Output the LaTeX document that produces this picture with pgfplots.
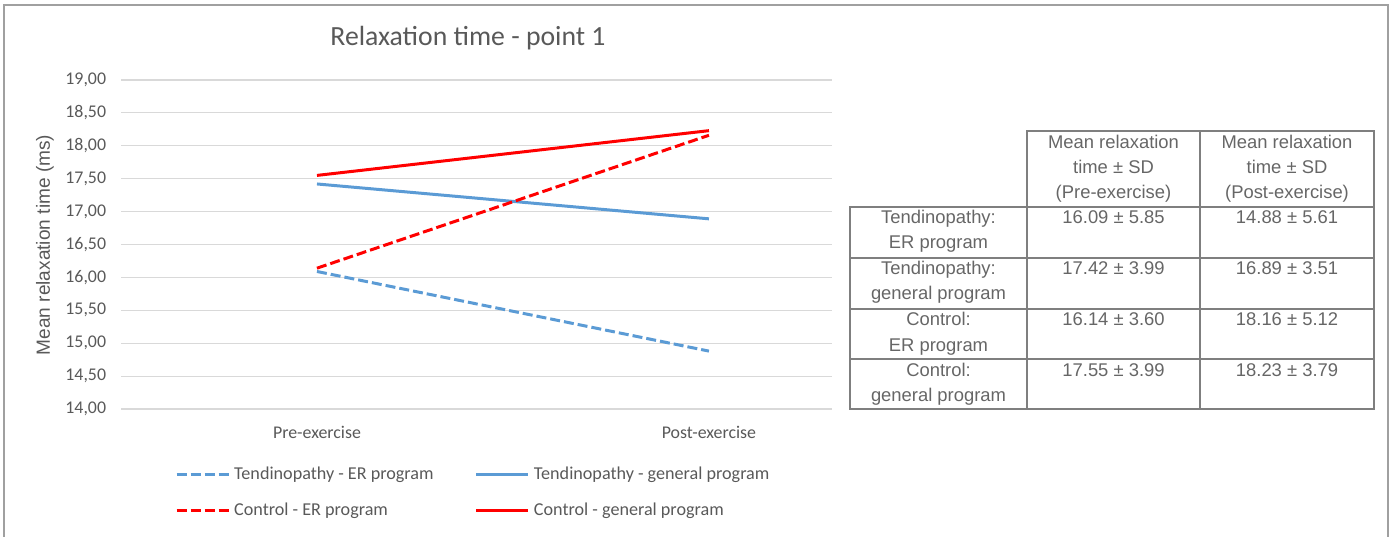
\documentclass[border=0pt]{standalone}
\usepackage{pgfplots}
\pgfplotsset{compat=1.18}
\usepackage{fontspec}
\setmainfont{Carlito}
\newfontfamily\arial{Liberation Sans}
\definecolor{txt}{HTML}{595959}
\definecolor{ttxt}{HTML}{666666}
\definecolor{tblue}{HTML}{5B9BD5}
\definecolor{tred}{HTML}{FF0000}
\definecolor{gridc}{HTML}{D9D9D9}
\definecolor{tbl}{HTML}{7F7F7F}
\definecolor{framec}{HTML}{A0A0A0}
\begin{document}
\begin{tikzpicture}[x=0.75pt,y=0.75pt]
\useasboundingbox (0,0) rectangle (1395,536);
\draw[framec, line width=1.2pt] (4,-10) -- (4,531) -- (1388,531) -- (1388,-10);
\node[txt, font=\fontsize{20.8}{25}\selectfont, anchor=base, inner sep=0pt] at (468,490) {Relaxation time - point 1};
\begin{axis}[
  at={(90.75pt,95.25pt)}, anchor=south west,
  scale only axis, width=533.25pt, height=246.75pt,
  xmin=-0.5, xmax=1.314, ymin=14, ymax=19,
  axis line style={draw=none},
  major tick length=0pt,
  xtick={0,1}, xticklabels={Pre-exercise,Post-exercise},
  ytick={14,14.5,15,15.5,16,16.5,17,17.5,18,18.5,19},
  ymajorgrids, grid style={gridc, line width=0.9pt},
  /pgf/number format/.cd, fixed, fixed zerofill, precision=2, use comma, assume math mode=true,
  /pgfplots/.cd,
  tick label style={txt, font=\fontsize{13.4}{16}\selectfont},
  yticklabel style={anchor=east, inner sep=0pt, xshift=-11pt},
  xticklabel style={anchor=base, inner sep=0pt, yshift=-21.75pt},
  ylabel={Mean relaxation time (ms)},
  ylabel style={at={(axis description cs:-0.1069,0.4985)}, anchor=center, txt, font=\arial\fontsize{14.3}{17}\selectfont},
  legend columns=2,
  legend cell align=left,
  legend image code/.code={\draw[#1] (0pt,0pt) -- (39pt,0pt);},
  legend style={draw=none, fill=none, inner sep=0pt, at={(axis description cs:0.0759,-0.176)}, anchor=north west,
    font=\fontsize{13.6}{16}\selectfont, text=txt, row sep=15.75pt,
    nodes={inner sep=0pt},
    /tikz/every odd column/.append style={column sep=3pt},
    /tikz/every even column/.append style={column sep=31pt}},
]
\addplot[tblue, line width=2.25pt, dash pattern=on 7.5pt off 3pt] coordinates {(0,16.09) (1,14.88)};
\addlegendentry{Tendinopathy - ER program}
\addplot[tblue, line width=2.25pt] coordinates {(0,17.42) (1,16.89)};
\addlegendentry{Tendinopathy - general program}
\addplot[tred, line width=2.25pt, dash pattern=on 7.5pt off 3pt] coordinates {(0,16.14) (1,18.16)};
\addlegendentry{Control - ER program}
\addplot[tred, line width=2.25pt] coordinates {(0,17.55) (1,18.23)};
\addlegendentry{Control - general program}
\end{axis}
% table
\draw[tbl, line width=1.5pt] (1027,329) rectangle (1374,405);
\draw[tbl, line width=1.5pt] (850,127) rectangle (1374,329);
\draw[tbl, line width=1.5pt] (850,278) -- (1374,278) (850,227) -- (1374,227) (850,177) -- (1374,177)
  (1027,127) -- (1027,329) (1200,127) -- (1200,405);
\begin{scope}[every node/.style={ttxt, font=\arial\fontsize{13.8}{16}\selectfont, anchor=base, inner sep=0pt}]
\node at (1113.5,387) {Mean relaxation};
\node at (1113.5,362) {time ± SD};
\node at (1113.5,337) {(Pre-exercise)};
\node at (1287,387) {Mean relaxation};
\node at (1287,362) {time ± SD};
\node at (1287,337) {(Post-exercise)};
\node at (938.5,312) {Tendinopathy:};
\node at (938.5,287) {ER program};
\node at (938.5,261) {Tendinopathy:};
\node at (938.5,236) {general program};
\node at (938.5,210) {Control:};
\node at (938.5,185) {ER program};
\node at (938.5,160) {Control:};
\node at (938.5,135) {general program};
\node at (1113.5,312) {16.09 ± 5.85};
\node at (1287,312) {14.88 ± 5.61};
\node at (1113.5,261) {17.42 ± 3.99};
\node at (1287,261) {16.89 ± 3.51};
\node at (1113.5,210) {16.14 ± 3.60};
\node at (1287,210) {18.16 ± 5.12};
\node at (1113.5,160) {17.55 ± 3.99};
\node at (1287,160) {18.23 ± 3.79};
\end{scope}
\end{tikzpicture}
\end{document}
